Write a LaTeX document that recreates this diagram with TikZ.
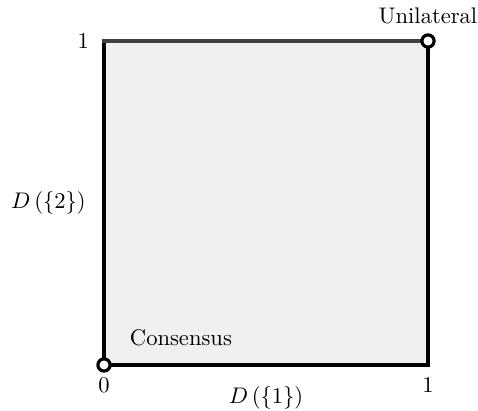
\documentclass[tikz,border=0pt]{standalone}
\usepackage{tikz}
\usetikzlibrary{positioning,calc}
\tikzset{
  edgeline/.style={line width=1.5pt, line cap=rect},
  endpoint/.style={circle, draw, fill=white, line width=1.4pt, minimum size=5.4pt, inner sep=0pt},
  ticklabel/.style={font=\normalsize, inner sep=3.3pt},
}

\begin{document}
\begin{tikzpicture}[x=0.443pt, y=0.443pt]
  \useasboundingbox (0,0) rectangle (478,411);

  % Corners of the square
  \coordinate (o) at (104,46);
  \coordinate (a) at (428,46);
  \coordinate (b) at (428,370);
  \coordinate (c) at (104,370);
  \coordinate (ymid) at (104,208);

  % Region
  \fill[gray!12] (o) rectangle (b);
  \draw[edgeline] (c) -- (o) -- (a) -- (b);
  \draw[edgeline, black!75] (c) -- (b);

  % Tick labels
  \node[ticklabel, below=2pt of o] (zero) {0};
  \node[ticklabel, below=2pt of a] (xone) {1};
  \node[ticklabel, left=3.2pt of c] (yone) {1};

  % Axis labels
  \node[ticklabel] (xlab) at (266,13) {$D\left(\{1\}\right)$};
  \node[ticklabel, left=4.6pt of ymid] (ylab) {$D\left(\{2\}\right)$};

  % End points
  \node[endpoint] (cons) at (o) {};
  \node[endpoint] (unil) at (b) {};
  \node[ticklabel, above right=5pt and 8pt of o] (conslab) {Consensus};
  \node[ticklabel, above=4.2pt of b] (unillab) {Unilateral};
\end{tikzpicture}
\end{document}
